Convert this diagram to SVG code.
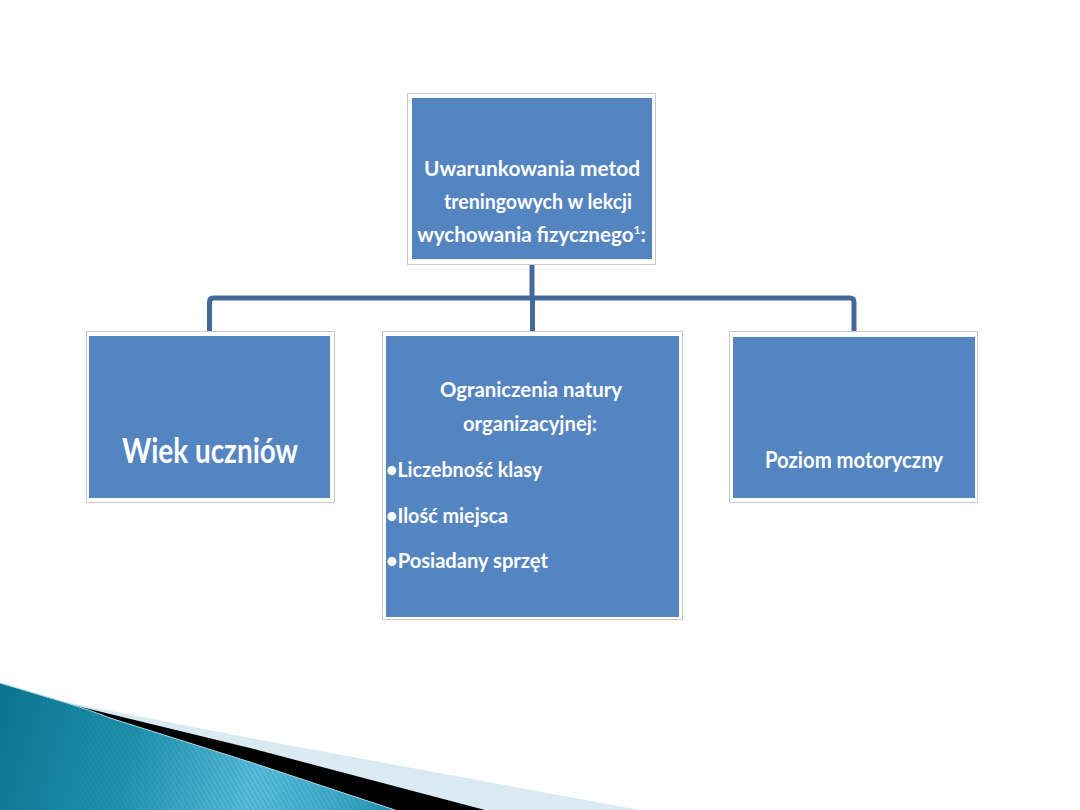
<svg xmlns="http://www.w3.org/2000/svg" width="1080" height="810" viewBox="0 0 1080 810">
<defs>
<style>
.frame{fill:#ffffff;stroke:#c9c9c9;stroke-width:1}
.box{fill:#5585c1}
.t{font-family:Lato,"Open Sans","Liberation Sans",sans-serif;font-weight:700;fill:#ffffff}
.conn{fill:none;stroke:#44699c;stroke-width:5;stroke-linejoin:round}
</style>
<linearGradient id="teal" gradientUnits="userSpaceOnUse" x1="0" y1="690" x2="400" y2="810">
<stop offset="0" stop-color="#0a7590"/>
<stop offset="0.35" stop-color="#2192b0"/>
<stop offset="0.65" stop-color="#56bcd9"/>
<stop offset="0.85" stop-color="#3fa9c8"/>
<stop offset="1" stop-color="#1c8fae"/>
</linearGradient>
<pattern id="stripes" width="4" height="4" patternUnits="userSpaceOnUse" patternTransform="rotate(-30)">
<rect x="0" y="0" width="1" height="4" fill="#0b5f75" opacity="0.18"/>
</pattern>
</defs>
<rect width="1080" height="810" fill="#ffffff"/>

<g id="decoration">
<path d="M40,697 L250,738 L640,810 L0,810 Z" fill="#d9eaf2"/>
<path d="M40,697 L250,748 L485,810 L0,810 Z" fill="#000000"/>
<path d="M0,683 L67,703 Q90,710 110,718 L250,762 L395,810 L0,810 Z" fill="url(#teal)"/>
<path d="M0,683 L67,703 Q90,710 110,718 L250,762 L395,810 L0,810 Z" fill="url(#stripes)"/>
<path d="M0,683 L67,703 Q90,710 110,718 L250,762 L395,810" fill="none" stroke="#a9d9e7" stroke-width="1"/>
</g>

<g id="connectors">
<path class="conn" d="M532,265 V298"/>
<path class="conn" d="M209.5,331 V302 Q209.5,298 213.5,298 H850 Q854,298 854,302 V331"/>
<path class="conn" d="M532.5,298 V331"/>
</g>

<g id="node-top">
<rect class="frame" x="407.5" y="93.5" width="248" height="171"/>
<rect class="box" x="412" y="98" width="240" height="161"/>
<text class="t" x="424" y="176" font-size="21" textLength="216" lengthAdjust="spacingAndGlyphs">Uwarunkowania metod</text>
<text class="t" x="444" y="209" font-size="21" textLength="188" lengthAdjust="spacingAndGlyphs">treningowych w lekcji</text>
<text class="t" x="531.5" y="242" font-size="20.6" text-anchor="middle">wychowania fizycznego<tspan font-size="12" dy="-8">1</tspan><tspan dy="8">:</tspan></text>
</g>

<g id="node-wiek">
<rect class="frame" x="86.5" y="331.5" width="248" height="171"/>
<rect class="box" x="89" y="336" width="241" height="162"/>
<text class="t" x="122" y="463" font-size="35" textLength="176" lengthAdjust="spacingAndGlyphs">Wiek uczniów</text>
</g>

<g id="node-ograniczenia">
<rect class="frame" x="382.5" y="331.5" width="300" height="288"/>
<rect class="box" x="386" y="336" width="293" height="281"/>
<text class="t" x="440" y="397" font-size="21" textLength="182" lengthAdjust="spacingAndGlyphs">Ograniczenia natury</text>
<text class="t" x="463" y="431" font-size="21" textLength="134" lengthAdjust="spacingAndGlyphs">organizacyjnej:</text>
<text class="t" x="386" y="477" font-size="21" textLength="156" lengthAdjust="spacingAndGlyphs">•Liczebność klasy</text>
<text class="t" x="386" y="523" font-size="21" textLength="122" lengthAdjust="spacingAndGlyphs">•Ilość miejsca</text>
<text class="t" x="386" y="568" font-size="21" textLength="162" lengthAdjust="spacingAndGlyphs">•Posiadany sprzęt</text>
</g>

<g id="node-poziom">
<rect class="frame" x="729.5" y="331.5" width="248" height="171"/>
<rect class="box" x="733" y="337" width="242" height="161"/>
<text class="t" x="765" y="468" font-size="23" textLength="178" lengthAdjust="spacingAndGlyphs">Poziom motoryczny</text>
</g>
</svg>
